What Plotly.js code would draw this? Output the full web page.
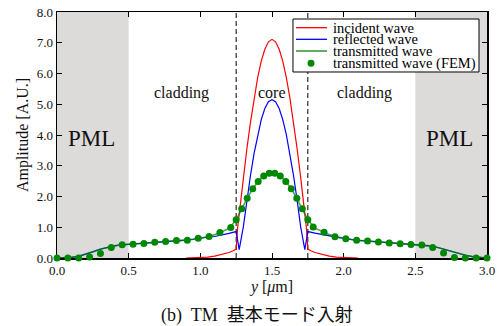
<!DOCTYPE html>
<html>
<head>
<meta charset="utf-8">
<script src="https://cdn.plot.ly/plotly-3.0.1.min.js"></script>
<style>html,body{margin:0;padding:0;background:#fff;}</style>
</head>
<body>
<div id="chart" style="width:503px;height:326px;"></div>
<script>
// ---- data ----
const xTicks = [0, 0.5, 1.0, 1.5, 2.0, 2.5, 3.0];
const xTickLabels = ["0.0", "0.5", "1.0", "1.5", "2.0", "2.5", "3.0"];
const yTicks = [0, 1, 2, 3, 4, 5, 6, 7, 8];
const yTickLabels = ["0.0", "1.0", "2.0", "3.0", "4.0", "5.0", "6.0", "7.0", "8.0"];

const seriesNames = ["incident wave", "reflected wave", "transmitted wave", "transmitted wave (FEM)"];

const incidentX = [0.9, 0.95, 1.0, 1.05, 1.1, 1.15, 1.2, 1.225, 1.24, 1.25, 1.26, 1.275, 1.3, 1.325, 1.35, 1.375, 1.4, 1.425, 1.45, 1.475, 1.5,
  1.525, 1.55, 1.575, 1.6, 1.625, 1.65, 1.675, 1.7, 1.725, 1.74, 1.75, 1.76, 1.775, 1.8, 1.85, 1.9, 1.95, 2.0, 2.05, 2.1];
const incidentY = [0.0, 0.005, 0.015, 0.03, 0.06, 0.11, 0.18, 0.23, 0.26, 0.29, 0.98, 1.62, 2.62, 3.56, 4.42, 5.2, 5.87, 6.40, 6.79, 7.03, 7.11,
  7.03, 6.79, 6.40, 5.87, 5.2, 4.42, 3.56, 2.62, 1.62, 0.98, 0.29, 0.26, 0.23, 0.18, 0.11, 0.06, 0.03, 0.015, 0.005, 0.0];

const reflectedX = [0, 0.05, 0.1, 0.15, 0.2, 0.25, 0.3, 0.35, 0.4, 0.45, 0.5, 0.55, 0.6, 0.65, 0.7, 0.75, 0.8, 0.85, 0.9, 0.95, 1.0,
  1.05, 1.1, 1.15, 1.2, 1.25, 1.271, 1.3, 1.325, 1.35, 1.375, 1.4, 1.425, 1.45, 1.475, 1.5,
  1.525, 1.55, 1.575, 1.6, 1.625, 1.65, 1.675, 1.7, 1.729, 1.75, 1.8, 1.85, 1.9, 1.95,
  2.0, 2.05, 2.1, 2.15, 2.2, 2.25, 2.3, 2.35, 2.4, 2.45, 2.5, 2.55, 2.6, 2.65, 2.7, 2.75, 2.8, 2.85, 2.9, 2.95, 3.0];
const reflectedY = [0, 0.005, 0.02, 0.055, 0.12, 0.2, 0.285, 0.35, 0.395, 0.43, 0.445, 0.455, 0.47, 0.49, 0.51, 0.535, 0.55, 0.565, 0.58, 0.61, 0.65,
  0.675, 0.70, 0.74, 0.80, 0.86, 0.27, 1.01, 1.89, 2.69, 3.40, 4.01, 4.50, 4.86, 5.08, 5.15,
  5.08, 4.86, 4.50, 4.01, 3.40, 2.69, 1.89, 1.01, 0.27, 0.86, 0.81, 0.76, 0.72, 0.68,
  0.64, 0.60, 0.575, 0.555, 0.535, 0.515, 0.495, 0.475, 0.46, 0.445, 0.43, 0.415, 0.395, 0.35, 0.285, 0.21, 0.14, 0.09, 0.045, 0.015, 0];

const transmittedX = [0, 0.05, 0.1, 0.15, 0.2, 0.25, 0.3, 0.35, 0.4, 0.45, 0.5, 0.55, 0.6, 0.65, 0.7, 0.75, 0.8, 0.85, 0.9, 0.95, 1.0,
  1.05, 1.1, 1.15, 1.2, 1.25, 1.2885, 1.3269, 1.3654, 1.4038, 1.4423, 1.4808, 1.5, 1.5192, 1.5577, 1.5962, 1.6346, 1.6731, 1.7115, 1.75,
  1.8, 1.85, 1.9, 1.95, 2.0, 2.05, 2.1, 2.15, 2.2, 2.25, 2.3, 2.35, 2.4, 2.45, 2.5, 2.55, 2.6, 2.65, 2.7, 2.75, 2.8, 2.85, 2.9, 2.95, 3.0];
const transmittedY = [0, 0.005, 0.02, 0.055, 0.12, 0.2, 0.285, 0.35, 0.395, 0.43, 0.445, 0.455, 0.47, 0.49, 0.51, 0.535, 0.55, 0.565, 0.58, 0.61, 0.65,
  0.69, 0.76, 0.86, 0.96, 1.24, 1.60, 1.94, 2.25, 2.49, 2.67, 2.76, 2.78, 2.76, 2.67, 2.49, 2.25, 1.94, 1.60, 1.24,
  0.97, 0.86, 0.76, 0.69, 0.64, 0.60, 0.575, 0.555, 0.535, 0.515, 0.495, 0.475, 0.46, 0.445, 0.43, 0.415, 0.395, 0.35, 0.285, 0.21, 0.14, 0.09, 0.045, 0.015, 0];

const femX = [0, 0.0758, 0.1516, 0.2273, 0.3031, 0.3789, 0.4547, 0.5305, 0.6063, 0.6820, 0.7578, 0.8336, 0.9094, 0.9852, 1.0609, 1.1367, 1.2125,
  1.25, 1.2885, 1.3269, 1.3654, 1.4038, 1.4423, 1.4808, 1.5192, 1.5577, 1.5962, 1.6346, 1.6731, 1.7115, 1.75,
  1.7875, 1.8633, 1.9391, 2.0148, 2.0906, 2.1664, 2.2422, 2.3180, 2.3938, 2.4695, 2.5453, 2.6211, 2.6969, 2.7727, 2.8484, 2.9242, 3.0];
const femY = [0, 0, 0, 0.03, 0.15, 0.34, 0.43, 0.45, 0.47, 0.51, 0.54, 0.57, 0.58, 0.64, 0.70, 0.83, 0.99,
  1.24, 1.60, 1.94, 2.25, 2.49, 2.67, 2.76, 2.76, 2.67, 2.49, 2.25, 1.94, 1.60, 1.24,
  1.01, 0.84, 0.69, 0.63, 0.58, 0.55, 0.52, 0.49, 0.46, 0.44, 0.42, 0.34, 0.16, 0.02, 0, 0, 0];

const pmlRegions = [[0, 0.5], [2.5, 3.0]];
const coreEdges = [1.25, 1.75];
const regionLabels = ["PML", "cladding", "core", "cladding", "PML"];
const regionLabelX = [0.24, 0.87, 1.5, 2.145, 2.74];
const regionLabelY = [3.9, 5.38, 5.38, 5.38, 3.9];
const caption = "(b)  TM  基本モード入射";

// ---- styles ----
const RED = "#ff0000", BLUE = "#0000ff", GREEN_LINE = "rgba(0,128,0,0.7)", GREEN_DOT = "#008800";
const SERIF = "Liberation Serif";

const traces = [
  {x: incidentX, y: incidentY, mode: "lines", name: seriesNames[0], line: {color: RED, width: 1.2}, cliponaxis: false},
  {x: reflectedX, y: reflectedY, mode: "lines", name: seriesNames[1], line: {color: BLUE, width: 1.2}, cliponaxis: false},
  {x: transmittedX, y: transmittedY, mode: "lines", name: seriesNames[2], line: {color: GREEN_LINE, width: 1.6}, cliponaxis: false},
  {x: femX, y: femY, mode: "markers", name: seriesNames[3], marker: {color: GREEN_DOT, size: 7}, cliponaxis: false}
];

const shapes = [];
pmlRegions.forEach(r => shapes.push({type: "rect", xref: "x", yref: "y", x0: r[0], x1: r[1], y0: 0, y1: 8,
  fillcolor: "#dcdbda", line: {width: 0}, layer: "below"}));
coreEdges.forEach(e => shapes.push({type: "line", xref: "x", yref: "y", x0: e, x1: e, y0: 0, y1: 8,
  line: {color: "black", width: 1, dash: "5px,3px"}, layer: "below"}));

// manual legend (paper coords)
const L = {x0: 0.5488, x1: 0.9814, y0: 0.7561, y1: 0.9715};
shapes.push({type: "rect", xref: "paper", yref: "paper", x0: L.x0, x1: L.x1, y0: L.y0, y1: L.y1,
  fillcolor: "white", line: {color: "black", width: 1}, layer: "above"});
const rowY = [0.9362, 0.8890, 0.8415, 0.7915];
const rowColors = [RED, BLUE, GREEN_LINE];
for (let i = 0; i < 3; i++) {
  shapes.push({type: "line", xref: "paper", yref: "paper", x0: 0.5558, x1: 0.6279, y0: rowY[i], y1: rowY[i],
    line: {color: rowColors[i], width: i === 2 ? 1.8 : 1.3}, layer: "above"});
}
shapes.push({type: "circle", xref: "paper", yref: "paper", x0: 0.5907 - 0.0081, x1: 0.5907 + 0.0081,
  y0: rowY[3] - 0.0142, y1: rowY[3] + 0.0142, fillcolor: GREEN_DOT, line: {width: 0}, layer: "above"});

const annotations = [];
regionLabels.forEach((t, i) => annotations.push({text: t, x: regionLabelX[i], y: regionLabelY[i], xref: "x", yref: "y",
  showarrow: false, xanchor: "center", yanchor: "middle",
  font: {family: SERIF, size: t === "PML" ? 23 : 16, color: "#111"}}));
seriesNames.forEach((t, i) => annotations.push({text: t, x: 0.6395, y: rowY[i], xref: "paper", yref: "paper",
  showarrow: false, xanchor: "left", yanchor: "middle", borderpad: 0, font: {family: SERIF, size: 14.5, color: "black"}}));
annotations.push({text: caption, x: 0.465, y: -0.2337, xref: "paper", yref: "paper", showarrow: false,
  xanchor: "center", yanchor: "middle", font: {family: "Liberation Serif, Noto Sans CJK JP", size: 18, color: "#111"}});

const axisCommon = {
  ticks: "inside", ticklen: 5, tickwidth: 1, tickcolor: "black",
  showline: true, linecolor: "black", linewidth: 1.5, mirror: "ticks",
  showgrid: false, zeroline: false, layer: "below traces",
  tickfont: {family: SERIF, size: 13, color: "#111"}
};

const layout = {
  width: 503, height: 326,
  margin: {l: 57, r: 16, t: 12, b: 68},
  paper_bgcolor: "white", plot_bgcolor: "white",
  showlegend: false,
  font: {family: SERIF, size: 13, color: "black"},
  xaxis: Object.assign({}, axisCommon, {range: [0, 3], tickvals: xTicks, ticktext: xTickLabels,
    title: {text: "<i>y</i> [<i>μ</i>m]", font: {family: SERIF, size: 16, color: "#111"}, standoff: 0}}),
  yaxis: Object.assign({}, axisCommon, {range: [0, 8], tickvals: yTicks, ticktext: yTickLabels,
    title: {text: "Amplitude [A.U.]", font: {family: SERIF, size: 16, color: "#111"}, standoff: 4}}),
  shapes: shapes,
  annotations: annotations
};

Plotly.newPlot("chart", traces, layout, {staticPlot: true, displayModeBar: false});
</script>
</body>
</html>
